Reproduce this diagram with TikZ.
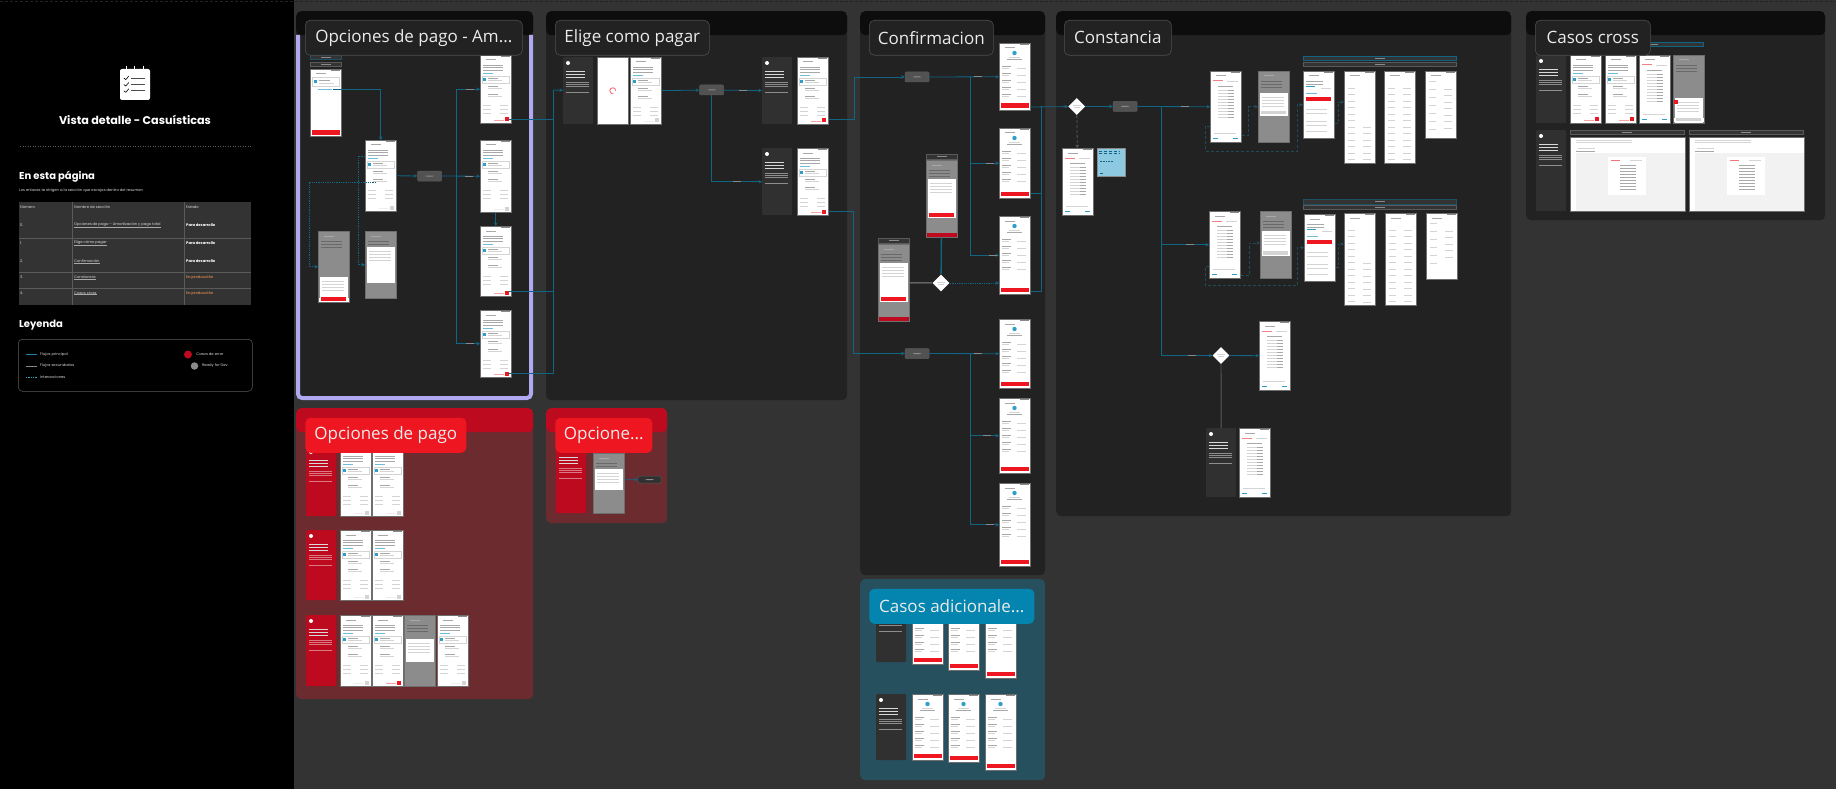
\documentclass[tikz,border=0pt]{standalone}
\usepackage{fontspec}
\setmainfont{Poppins}
\newfontfamily\titlefont{Open Sans}
\usetikzlibrary{positioning, calc, arrows.meta, shapes.geometric}

\definecolor{canvas}{HTML}{333333}
\definecolor{body}{HTML}{222222}
\definecolor{head}{HTML}{0D0D0D}
\definecolor{lavender}{HTML}{B0A8F0}
\definecolor{errbody}{HTML}{6B2B2F}
\definecolor{errhead}{HTML}{BE0A1E}
\definecolor{addbody}{HTML}{27505F}
\definecolor{addhead}{HTML}{0385B0}
\definecolor{brand}{HTML}{EE1620}
\definecolor{flowblue}{HTML}{106585}
\definecolor{chip}{HTML}{2F9FCA}
\definecolor{mock}{HTML}{D4D4D4}
\definecolor{mocktext}{HTML}{A8A8A8}
\definecolor{mockdark}{HTML}{8A8A8A}
\definecolor{veil}{HTML}{8C8C8C}
\definecolor{scedge}{HTML}{6E6E6E}
\definecolor{cardgrey}{HTML}{303030}
\definecolor{rowline}{HTML}{5A5A5A}
\definecolor{amber}{HTML}{B5764A}

\tikzset{
  > = {Stealth[length = 3.5pt, width = 3.5pt]},
  flow/.style = {->, draw = flowblue, line width = 0.8pt},
  trunk/.style = {flow, -},
  hint/.style = {flow, densely dotted},
  ghost/.style = {flow, densely dashed, draw = flowblue!45!canvas, line width = 0.6pt},
  side/.style = {draw = rowline, line width = 0.9pt},
  mockline/.style = {draw = mock, line width = 0.5pt},
  darkline/.style = {draw = mocktext, line width = 0.5pt},
  lbl/.style = {fill = mockdark, inner sep = 0, minimum width = 8pt, minimum height = 1.2pt},
  panel/.style n args = {2}{fill = #1, inner sep = 0, rounded corners = 5pt, anchor = north west,
    path picture = {\fill [fill = #2] (path picture bounding box.north west)
      rectangle ([yshift = -24pt]path picture bounding box.north east);}},
  frametitle/.style = {fill = #1, draw = white!20!#1, line width = 0.6pt, rounded corners = 5pt,
    anchor = north west, inner sep = 0, minimum height = 35pt, text = white!92!black,
    font = \titlefont\fontsize{17}{20}\selectfont},
  screen/.style = {draw = scedge, line width = 0.5pt, fill = white, inner sep = 0,
    minimum width = 31pt, anchor = north west},
  greyscreen/.style = {screen, fill = veil},
  card/.style = {fill = #1, inner sep = 0, minimum width = 30pt, rounded corners = 1pt, anchor = north west},
  pill/.style = {fill = canvas!85!white, draw = rowline, line width = 0.5pt, rounded corners = 1pt,
    inner sep = 0, minimum width = 24pt, minimum height = 10pt, path picture = {
    \fill [fill = mockdark] ([shift = {(-4pt,-0.5pt)}]path picture bounding box.center)
      rectangle ([shift = {(4pt,0.5pt)}]path picture bounding box.center);}},
  decision/.style = {diamond, fill = white, inner sep = 0, minimum width = 17pt, minimum height = 17pt,
    path picture = {
    \draw [mockline] ([shift = {(-4pt,1pt)}]path picture bounding box.center) -- ++(8,0);
    \draw [mockline] ([shift = {(-3pt,-1pt)}]path picture bounding box.center) -- ++(6,0);}},
  tagbar/.style = {fill = canvas, draw = #1, line width = 0.5pt, inner sep = 0, anchor = north west,
    path picture = {
    \fill [fill = mockdark] ([shift = {(-5pt,-0.4pt)}]path picture bounding box.center)
      rectangle ([shift = {(5pt,0.4pt)}]path picture bounding box.center);}},
  cellhead/.style = {anchor = west, inner sep = 0, text = white!85!black, font = \fontsize{3.7}{5}\selectfont},
  cell/.style = {cellhead, text = #1},
  heading/.style = {anchor = west, inner sep = 0, text = white, font = \bfseries\fontsize{10}{12}\selectfont},
  dot/.style = {circle, inner sep = 0, minimum size = #1}
}

\newcommand{\mockhead}{%
  \fill [mockdark] (21,1) rectangle (30,2);
  \fill [mocktext] (6,4.5) rectangle (16,5.3);}
\newcommand{\paymock}[2]{%
  \begin{scope}[shift = {(#1.north west)}]
    \mockhead
    \foreach \r in {10,12.5,15} {\draw [darkline] (3,\r) -- (23,\r);}
    \draw [draw = chip!70, line width = 0.5pt] (3,18) -- (13,18);
    \draw [mockline] (2,21) rectangle (29,28);
    \fill [chip] (3,23) rectangle (6,26);
    \foreach \r in {23,31,39} {\draw [darkline] (8,\r) -- (18,\r);
      \draw [mockline] (8,\r+2) -- (22,\r+2);}
    \foreach \r in {50,54,58} {\draw [mockline] (3,\r) -- (11,\r);
      \draw [mockline] (20,\r) -- (28,\r);}
  \end{scope}
  \begin{scope}[shift = {(#1.south west)}]
    \draw [draw = #2!40, line width = 0.8pt] (14,-3.5) -- (24,-3.5);
    \fill [#2] (25,-6) rectangle (29,-2);
  \end{scope}}
\newcommand{\confmock}[1]{%
  \begin{scope}[shift = {(#1.north west)}]
    \mockhead
    \fill [chip] (15.5,10) circle (2.2pt);
    \draw [mockline] (10,14) -- (21,14);
    \draw [darkline] (8,16.5) -- (23,16.5);
    \foreach \r in {23,30,37,44,51} {\draw [darkline] (3,\r) -- (12,\r);
      \draw [mockline] (3,\r+2) -- (10,\r+2);
      \draw [mockline] (18,\r+2) -- (27,\r+2);}
  \end{scope}
  \fill [brand] ([shift = {(2pt,2.5pt)}]#1.south west) rectangle ([shift = {(-2pt,7pt)}]#1.south east);}
\newcommand{\vouchmock}[1]{%
  \begin{scope}[shift = {(#1.north west)}]
    \mockhead
    \draw [draw = brand!55, line width = 1pt] (3,10) -- (13,10);
    \draw [mockline] (17,10) -- (28,10);
    \draw [darkline] (8,15) -- (23,15);
    \foreach \r in {19,22,...,46} {\draw [mockline] (8,\r) -- (18,\r);
      \draw [darkline] (18,\r) -- (24,\r);}
  \end{scope}
  \begin{scope}[shift = {(#1.south west)}]
    \draw [draw = chip, line width = 1pt] (3,-4) -- (8,-4);
    \draw [draw = chip, line width = 1.4pt] (23,-4) -- (28,-4);
    \draw [mockline] (4,-9) -- (26,-9);
  \end{scope}}
\newcommand{\listmock}[3]{%
  \begin{scope}[shift = {(#1.north west)}]
    \mockhead
    \foreach \r in #2 {\draw [mockline] (4,\r) -- (11,\r);}
    \foreach \r in #3 {\draw [mockline] (19,\r) -- (27,\r);}
  \end{scope}}
\newcommand{\formmock}[1]{%
  \begin{scope}[shift = {(#1.north west)}]
    \mockhead
    \foreach \r in {10,13} {\draw [darkline] (3,\r) -- (20,\r);}
    \draw [draw = chip, line width = 0.8pt] (3,15) -- (12,15);
    \draw [mockline] (18,17) -- (28,17);
    \draw [draw = chip!70, line width = 0.5pt] (3,22) -- (14,22);
    \fill [brand] (3,26) rectangle (28,30);
    \foreach \r in {38,42,50,54,60} {\draw [mockline] (3,\r) -- (24,\r);}
  \end{scope}}
\newcommand{\startmock}[1]{%
  \begin{scope}[shift = {(#1.north west)}]
    \mockhead
    \draw [mockline] (2,8) rectangle (29,17);
    \fill [chip] (4,11) rectangle (7,14);
    \draw [darkline] (9,11) -- (20,11);
    \draw [mockline] (9,14) -- (24,14);
    \draw [draw = chip!70, line width = 0.5pt] (8,20) -- (22,20);
  \end{scope}
  \fill [brand] ([shift = {(2pt,1.5pt)}]#1.south west) rectangle ([shift = {(-2pt,6pt)}]#1.south east);}
\newcommand{\modalmock}[5]{%
  \begin{scope}[shift = {(#1.north west)}]
    \mockhead
    \foreach \r in {10,13,16} {\draw [draw = veil!75!black, line width = 0.5pt] (3,\r) -- (24,\r);}
  \end{scope}
  \fill [#5] ([shift = {(1pt,1pt)}]#1.south west) rectangle ([shift = {(-1pt,5pt)}]#1.south east);
  \begin{scope}[shift = {(#1.north west)}]
    \fill [white] (1.5,#2) rectangle (29.5,#3);
    \foreach \r in {4,7,10,13} {\draw [mockline] (4,#2+\r) -- (26,#2+\r);}
    \fill [#4] (3,#3-5) rectangle (28,#3-1.5);
  \end{scope}}
\newcommand{\cardmock}[2]{%
  \begin{scope}[shift = {(#1.north west)}]
    \fill [white] (5,6) circle (2pt);
    \foreach \r in {14,17,20} {\draw [draw = white!85!black, line width = 0.6pt] (3,\r) -- (22,\r);}
    \foreach \r in {25,27,29,35} {\draw [draw = white!45!#2, line width = 0.4pt] (3,\r) -- (26,\r);}
  \end{scope}}
\newcommand{\webmock}[1]{%
  \begin{scope}[shift = {(#1.north west)}]
    \foreach \r in {3,5} {\draw [mockline] (6,\r) -- (62,\r);}
    \draw [mockline] (8,11) -- (25,11);
    \draw [darkline] (6,14) -- (25,14);
    \fill [black!5] (6,16) rectangle (114.5,73.5);
    \fill [white] (38,20) rectangle (76,58);
    \draw [draw = brand!60, line width = 1pt] (41,23) -- (50,23);
    \draw [mockline] (60,23) -- (72,23);
    \foreach \r in {28,31,...,52} {\draw [darkline] (50,\r) -- (66,\r);}
  \end{scope}}

\begin{document}
\begin{tikzpicture}[x = 1pt, y = -1pt]
\useasboundingbox (0,0) rectangle (1836,789);
\fill [canvas] (0,0) rectangle (1836,789);
\fill [black] (0,0) rectangle (294,789);
\draw [body, densely dashed, line width = 1pt] (0,1.5) -- (1836,1.5);

%% Side panel
\node [fill = white, rounded corners = 2pt, inner sep = 0, minimum width = 30pt, minimum height = 31pt] (icon) at (135,84.5) {};
\begin{scope}[shift = {(icon.north west)}]
  \foreach \r in {9.3,15.7,22} {
    \draw [black, line width = 0.6pt] (4,\r) -- (6,\r+1.5) -- (9,\r-2);
    \draw [black!70, line width = 0.8pt] (11,\r) -- (25,\r);}
\end{scope}
\foreach \i in {-9,-1,8}
  \draw [white, line width = 0.6pt] ([xshift = \i pt]icon.north) -- ++(0,-3);
\node [heading, anchor = center, font = \bfseries\fontsize{11.2}{13}\selectfont] (mainhead) [below = 15pt of icon] {Vista detalle - Casuísticas};
\draw [canvas!80!white, dotted, line width = 0.5pt] (20,146) -- (252,146);

\node [heading] (pagehead) at (19,177) {En esta página};
\node [cell = white!85!black] (pagesub) at (19,191) {Los enlaces te dirigen a la sección que escojas dentro del resumen};

\node [fill = canvas, inner sep = 0, minimum width = 232pt, minimum height = 103pt, anchor = north west] (tbl) at (19,202) {};
\foreach \r in {238,272,288}
  \draw [rowline, line width = 0.4pt] (19,\r) -- (tbl.east |- 0,\r);
\foreach \c in {72,184}
  \draw [rowline, line width = 0.4pt] (\c,202) -- (\c,305);
\node [cellhead] (thnum) at (20,207) {Número};
\node [cellhead] (thsec) at (74,207) {Nombre de sección};
\node [cellhead] (thest) at (186,207) {Estado};
\foreach \i/\r/\sec/\st/\col in {0/225/{Opciones de pago – Amortización y pago total}/Para desarrollo/white,
    1/243/{Elige cómo pagar}/Para desarrollo/white,
    2/261/Confirmación/Para desarrollo/white,
    3/277/Constancia/En producción/amber,
    4/293/Casos cross/En producción/amber} {
  \node [cellhead] (num\i) at (20,\r) {\i.};
  \node [cellhead] (sec\i) at (74,\r) {\sec};
  \draw [mocktext, line width = 0.2pt] (sec\i.south west) -- (sec\i.south east);
  \node [cell = \col] (est\i) at (186,\r) {\bfseries\st};
}

\node [heading] (keyhead) at (19,325) {Leyenda};
\node [draw = rowline, line width = 0.5pt, rounded corners = 4pt, inner sep = 0, minimum width = 234pt,
  minimum height = 52pt, anchor = north west] (keybox) at (18,339) {};
\node [cellhead] (keya) at (40,354.5) {Flujos principal};
\node [cellhead] (keyb) at (40,366) {Flujos secundarios};
\node [cellhead] (keyc) at (40,377) {Interacciones};
\draw [chip!80!black, line width = 1.3pt] ([xshift = -14pt]keya.west) -- ([xshift = -3pt]keya.west);
\draw [mockdark, line width = 0.6pt] ([xshift = -14pt]keyb.west) -- ([xshift = -3pt]keyb.west);
\draw [chip, densely dotted, line width = 0.7pt] ([xshift = -14pt]keyc.west) -- ([xshift = -3pt]keyc.west);
\node [dot = 8pt, fill = errhead] (dotred) at (188,354.5) {};
\node [cellhead] (keyd) [right = 4pt of dotred] {Casos de error};
\node [dot = 7.5pt, fill = mockdark] (dotgrey) at (194.5,366) {};
\node [cellhead] (keye) [right = 3.5pt of dotgrey] {Ready for Dev};

%% Frames
\foreach \nm/\x/\y/\w/\h in {fOpc/296/11/237/389, fEli/546/11/301/389, fCnf/860/11/185/564,
    fCns/1056/11/455/505, fCro/1526/11/299/209}
  \node [panel = {body}{head}, minimum width = \w pt, minimum height = \h pt] (\nm) at (\x,\y) {};
\foreach \nm/\x/\y/\w/\h in {fErr/296/408/237/291, fErm/546/408/121/115}
  \node [panel = {errbody}{errhead}, minimum width = \w pt, minimum height = \h pt] (\nm) at (\x,\y) {};
\node [panel = {addbody}{addbody}, minimum width = 185pt, minimum height = 201pt] (fAdd) at (860,579) {};
\draw [lavender, line width = 4pt, rounded corners = 4pt] (298,35) -- (298,398) -- (531,398) -- (531,35);

%% Payment screens
\foreach \nm/\x/\y/\h in {opS2/365/140/71, opR2/480/140/72, elS3/630/57/67, erA2/372/530/70, erA1/340/530/70,
    erB1/340/446/70, erB2/372/446/70, erC1/340/615/71, erC4/437/615/71} {
  \node [screen, minimum height = \h pt] (\nm) at (\x,\y) {};
  \paymock{\nm}{mock}
}
\foreach \nm/\x/\y/\h in {opR1/480/55/68, opR3/480/226/70, opR4/480/310/67, elS2/797/57/67, elS4/797/148/67,
    erC2/372/615/71, crA/1570/55/68, crB/1605/55/68} {
  \node [screen, minimum height = \h pt] (\nm) at (\x,\y) {};
  \paymock{\nm}{brand}
}
\node [screen, minimum height = 67pt] (opS1) at (310,69) {};
\startmock{opS1}
\node [screen, minimum height = 67pt] (elS1) at (597,57) {};
\draw [draw = brand!60, line width = 0.9pt] ([xshift = 3pt]elS1.center) arc [start angle = 0, end angle = 280, radius = 3pt];

%% Confirmation screens
\foreach \nm/\x/\y/\h in {cfC1/999/43/67, cfC2/999/128/70, cfC3/999/216/78, cfC4/999/319/69, cfC5/999/398/75,
    cfC6/999/483/83, adA1/912/598/66, adA2/948/598/72, adA3/985/598/80, adB1/912/694/66, adB2/948/694/68,
    adB3/985/694/76} {
  \node [screen, minimum height = \h pt] (\nm) at (\x,\y) {};
  \confmock{\nm}
}

%% Receipt screens
\foreach \nm/\x/\y/\h in {csV/1062/148/67, csA1/1210/71/71, csB1/1209/211/67, csD/1259/321/69, csE/1239/428/69,
    crC/1639/55/68} {
  \node [screen, minimum height = \h pt] (\nm) at (\x,\y) {};
  \vouchmock{\nm}
}
\foreach \nm/\x/\y/\h/\lf/\rg in {csA4/1344/71/92/{17,23.5,...,90}/{56,62.5,...,90},
    csA5/1384/71/92/{17,23.5,...,90}/{17,23.5,...,90},
    csA6/1425/71/67/{10,18,...,60}/{18,24.5,...,60},
    csB4/1344/213/92/{17,23.5,...,90}/{50,56.5,...,90},
    csB5/1385/213/92/{17,23.5,...,90}/{17,23.5,...,90},
    csB6/1426/213/66/{10,18,...,50}/{18,24.5,...,50}} {
  \node [screen, minimum height = \h pt] (\nm) at (\x,\y) {};
  \listmock{\nm}{\lf}{\rg}
}
\foreach \nm/\x/\y in {csA3/1303/71, csB3/1304/214} {
  \node [screen, minimum height = 67pt] (\nm) at (\x,\y) {};
  \formmock{\nm}
}
\foreach \nm/\x/\y in {crWa/1570/137, crWb/1689/137} {
  \node [screen, minimum width = 115pt, minimum height = 74pt] (\nm) at (\x,\y) {};
  \webmock{\nm}
}

%% Screens under a modal
\foreach \nm/\x/\y/\h/\ta/\tb/\btn/\band in {opS3/318/231/71/46/71/brand/white, opS4/365/231/67/16/52/white/veil,
    cfG1/926/160/77/19/58/brand/errhead, cfG2/878/244/77/19/58/brand/errhead, csA2/1258/71/71/22/45/mock/veil,
    csB2/1260/211/67/20/45/mock/veil, erC3/404/615/71/24/47/white/veil, emS/593/453/60/16/37/white/veil,
    crD/1673/55/68/43/68/mock/white} {
  \node [greyscreen, minimum height = \h pt] (\nm) at (\x,\y) {};
  \modalmock{\nm}{\ta}{\tb}{\btn}{\band}
}
\node [fill = brand, inner sep = 0, minimum size = 4pt] (crSq) at (1676,102) {};

%% Text cards
\foreach \nm/\x/\y/\h in {elCd1/563/57/67, elCd2/762/57/67, elCd3/762/148/67, adCd1/876/596/66, adCd2/876/694/66,
    csCard/1206/428/69, crCd1/1536/55/68, crCd2/1536/130/81} {
  \node [card = cardgrey, minimum height = \h pt] (\nm) at (\x,\y) {};
  \cardmock{\nm}{cardgrey}
}
\foreach \nm/\x/\y/\h in {erCd1/306/446/70, erCd2/306/530/70, erCd3/306/615/71, emCd/556/443/70} {
  \node [card = errhead, minimum height = \h pt] (\nm) at (\x,\y) {};
  \cardmock{\nm}{errhead}
}

%% Tags over the screens
\node [tagbar = flowblue!60!canvas, minimum width = 31pt, minimum height = 4.5pt] (opTagA) at (310,55) {};
\node [tagbar = rowline, minimum width = 31pt, minimum height = 4.5pt] (opTagB) at (310,62) {};
\node [tagbar = rowline, minimum width = 31pt, minimum height = 5pt] (cfTagA) at (926,153.5) {};
\node [tagbar = rowline, minimum width = 31pt, minimum height = 5pt] (cfTagB) at (878,237.5) {};
\node [tagbar = flowblue, minimum width = 153pt, minimum height = 4.5pt] (csTagA) at (1303,56) {};
\node [tagbar = rowline, minimum width = 153pt, minimum height = 4.5pt] (csTagB) at (1303,62) {};
\node [tagbar = flowblue!60!canvas, minimum width = 153pt, minimum height = 4.5pt] (csTagC) at (1303,199) {};
\node [tagbar = rowline, minimum width = 153pt, minimum height = 4pt] (csTagD) at (1303,205) {};
\node [tagbar = flowblue, minimum width = 100pt, minimum height = 4.5pt] (crTagA) at (1603,42) {};
\node [tagbar = rowline, minimum width = 114pt, minimum height = 4.5pt] (crTagB) at (1570,130) {};
\node [tagbar = rowline, minimum width = 114pt, minimum height = 4.5pt] (crTagC) at (1689,130) {};

%% Sticky note
\node [fill = chip!55!white, draw = mockdark, line width = 0.4pt, inner sep = 0, minimum size = 28pt]
  (csNote) [right = 3pt of csV.north east, anchor = north west] {};
\begin{scope}[shift = {(csNote.north west)}]
  \foreach \r in {3,5.5} {\draw [flowblue, densely dashed, line width = 0.6pt] (2,\r) -- (23,\r);}
  \draw [flowblue, densely dotted, line width = 0.6pt] (3,13) -- (16,13);
  \draw [flowblue, line width = 0.6pt] (3,25) -- (6,25);
\end{scope}

%% Pills and decisions
\node [pill] (opPill) at (429.5,176) {};
\node [pill] (elPill) at (711.5,90) {};
\node [pill] (cfPillA) at (917,77) {};
\node [pill] (cfPillB) at (917,353.5) {};
\node [pill] (csPill) at (1125,106.5) {};
\node [pill, fill = cardgrey, minimum width = 23pt, minimum height = 7pt] (emPill) at (649.5,479.5) {};
\node [decision] (cfDec) at (941,283) {};
\node [decision] (csDec) at (1076.7,106.5) {};
\node [decision] (csDecB) at (1221,355.5) {};

%% Turning points
\coordinate (opTapA) at (333,89);
\coordinate (opTapB) at (376,182);
\coordinate (opTurnA) at (309,220);
\coordinate (opTurnB) at (358,210);
\coordinate (opFork) at (456,176);
\coordinate (elBus) at (553,90);
\coordinate (cfTurnA) at (854,100);
\coordinate (cfTurnB) at (853.5,300);
\coordinate (cfForkA) at (970,77);
\coordinate (cfForkB) at (970,353.5);
\coordinate (cfBus) at (1041,106.5);
\coordinate (csFork) at (1161,106.5);
\coordinate (csTurnA) at (1248,120);
\coordinate (csLoopA) at (1205,151);
\coordinate (csLoopB) at (1297,130);
\coordinate (csTurnB) at (1338,110);
\coordinate (csTurnC) at (1249,260);
\coordinate (csLoopC) at (1205,285);
\coordinate (csLoopD) at (1297,268);
\coordinate (csTurnD) at (1338,255);

%% Opciones de pago
\draw [flow] (opTapA) -| (opS2);
\draw [hint] (opTapB) -| (opTurnA) |- (opS3);
\draw [hint] ([yshift = -16pt]opS2.north west) -| (opTurnB) |- (opS4);
\draw [flow] (opS2) -- (opPill);
\draw [flow] (opPill) -- node [lbl, pos = 0.7] {} (opR2);
\draw [flow] (opFork) |- node [lbl, pos = 0.8] {} (opR1);
\draw [flow] (opFork) |- node [lbl, pos = 0.8] {} (opR4);
\draw [flow, line width = 1.3pt] (opR2) -- (opR3);
\draw [trunk] ([xshift = -3pt, yshift = 4pt]opR1.south east) -| (elBus);
\draw [trunk] ([xshift = -3pt, yshift = 5pt]opR3.south east) -| (elBus);
\draw [trunk] ([xshift = -3pt, yshift = 4pt]opR4.south east) -| (elBus);

%% Elige como pagar
\draw [flow] (elBus) -- (elCd1);
\draw [flow] (elS3) -- (elPill);
\draw [flow] (elPill) -- node [lbl, pos = 0.5] {} (elCd2);
\draw [flow] (elPill.south) |- node [lbl, pos = 0.75] {} (elCd3);

%% Confirmacion
\draw [flow] ([yshift = 5pt]elS2.south east) -| (cfTurnA) |- (cfPillA);
\draw [flow] ([yshift = 4pt]elS4.south east) -| (cfTurnB) |- (cfPillB);
\draw [flow] (cfPillA) -- node [lbl, pos = 0.7] {} (cfC1);
\draw [flow] (cfForkA) |- node [lbl, pos = 0.85] {} (cfC2);
\draw [flow] (cfForkA) |- node [lbl, pos = 0.9] {} (cfC3);
\draw [flow] (cfPillB) -- node [lbl, pos = 0.7] {} (cfC4);
\draw [flow] (cfForkB) |- node [lbl, pos = 0.8] {} (cfC5);
\draw [flow] (cfForkB) |- node [lbl, pos = 0.85] {} (cfC6);
\draw [flow, -, line width = 1.3pt] (cfG1) -- (cfDec);
\draw [side, draw = mockdark] (cfG2) -- (cfDec);
\draw [hint] (cfDec) -- (cfC3.west |- cfDec);
\draw [flow] ([yshift = 3.5pt]cfC1.south east) -- (csDec);
\draw [trunk] ([yshift = 5pt]cfC2.south east) -| (cfBus);
\draw [trunk, line width = 1pt] ([yshift = 3pt]cfC3.south east) -| (cfBus);

%% Constancia
\draw [flow] (csDec) -- (csPill);
\draw [flow, densely dashed, draw = rowline] (csDec) -- (csV);
\draw [flow] (csPill) -- node [lbl, pos = 0.65] {} (csA1);
\draw [flow] (csFork) |- node [lbl, pos = 0.8] {} (csB1);
\draw [flow] (csFork) |- node [lbl, pos = 0.8] {} (csDecB);
\draw [flow] (csDecB) -- (csD);
\draw [side] (csDecB) -- (csCard);
\draw [ghost] ([yshift = 7pt]csA1.south east) -| (csTurnA) |- (csA2);
\draw [ghost] ([yshift = 16pt]csA1.south west) -| (csLoopA) -| (csLoopB) |- (csA3);
\draw [ghost] ([yshift = 15pt]csA3.south east) -| (csTurnB) |- ([yshift = -31pt]csA4.north west);
\draw [ghost] ([yshift = 3pt]csB1.south east) -| (csTurnC) |- ([yshift = -32pt]csB2.north west);
\draw [ghost] ([yshift = 12pt]csB1.south west) -| (csLoopC) -| (csLoopD) |- (csB3);
\draw [ghost] ([yshift = 14pt]csB3.south east) -| (csTurnD) |- ([yshift = -31pt]csB4.north west);

%% Opcione...
\draw [flow, line width = 0.6pt] ([yshift = 3.5pt]emS.east) -- (emPill);

%% Titles
\foreach \nm/\x/\y/\w/\lab in {tOpc/305/20/217/{Opciones de pago - Am...}, tEli/555/20/154/Elige como pagar,
    tCnf/869/20/124/Confirmacion, tCns/1064/20/107/Constancia, tCro/1535/20/115/Casos cross}
  \node [frametitle = body, minimum width = \w pt] (\nm) at (\x,\y) {\lab};
\foreach \nm/\x/\w/\lab in {tErr/305/161/Opciones de pago, tErm/555/97/{Opcione...}}
  \node [frametitle = brand, draw = none, minimum width = \w pt] (\nm) at (\x,417.5) {\lab};
\node [frametitle = addhead, draw = none, minimum width = 165pt] (tAdd) at (869,588.5) {Casos adicionale...};

\end{tikzpicture}
\end{document}
